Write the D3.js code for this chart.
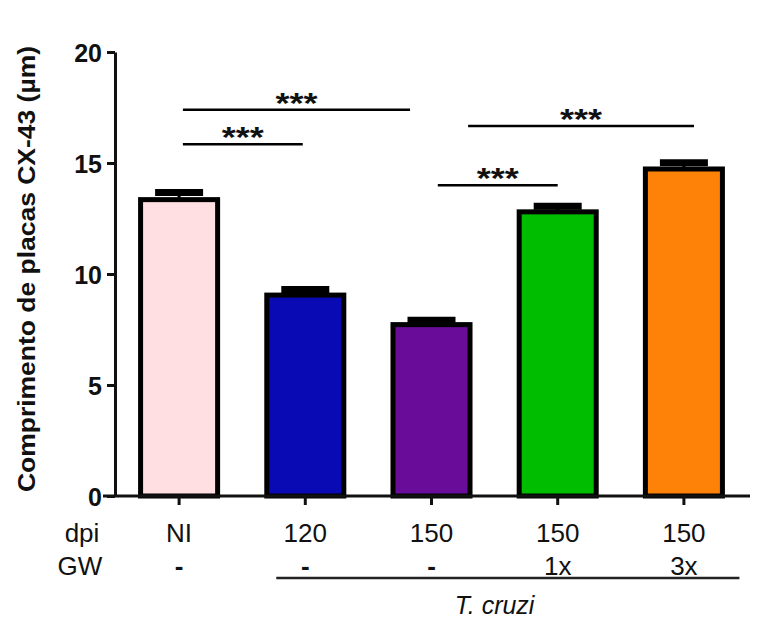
<!DOCTYPE html>
<html>
<head>
<meta charset="utf-8">
<script src="https://cdn.jsdelivr.net/npm/d3@7"></script>
<style>
  body { margin: 0; background: #fff; }
  text { font-family: "Liberation Sans", Arial, sans-serif; fill: #111; }
</style>
</head>
<body>
<svg id="mainFrame"></svg>
<script>
const groups = ['NI', '120', '150', '150 1x', '150 3x'];
const dpiLabels = ['NI', '120', '150', '150', '150'];
const gwLabels = ['-', '-', '-', '1x', '3x'];
const means = [13.35, 9.05, 7.72, 12.8, 14.73];
const sems = [0.32, 0.25, 0.2, 0.25, 0.28];
const barColors = ['#ffdfe1', '#0a0ab4', '#6a0c9a', '#00bd00', '#ff8208'];
const yTicks = [0, 5, 10, 15, 20];
// significance bars: positions in category units, height in axis units
const comparisons = [
    { from: 0.03, to: 1.83, level: 17.4 },
    { from: 0.03, to: 0.98, level: 15.85 },
    { from: 2.05, to: 3.0, level: 14.0 },
    { from: 2.29, to: 4.08, level: 16.67 }
];

const width = 758, height = 624;
const svg = d3.select('#mainFrame')
    .attr('width', width)
    .attr('height', height);

const x = d3.scaleBand()
    .domain(groups)
    .range([116, 747])
    .paddingInner(0.35)
    .paddingOuter(0.175);

const y = d3.scaleLinear()
    .domain([0, 20])
    .range([496, 52]);

const cx = d => x(d) + x.bandwidth() / 2;
const idx = d3.scaleLinear().domain([0, 4]).range([cx(groups[0]), cx(groups[4])]);

// bars
const bars = svg.append('g');
bars.selectAll('rect')
    .data(groups)
    .join('rect')
    .attr('x', d => x(d) + 2.5)
    .attr('y', (d, i) => y(means[i]))
    .attr('width', x.bandwidth() - 5)
    .attr('height', (d, i) => y(0) - y(means[i]))
    .attr('fill', (d, i) => barColors[i])
    .attr('stroke', '#000')
    .attr('stroke-width', 5);

// error bars (upper half only)
const err = svg.append('g').attr('stroke', '#000');
err.selectAll('line.v')
    .data(groups)
    .join('line')
    .attr('class', 'v')
    .attr('x1', d => cx(d)).attr('x2', d => cx(d))
    .attr('y1', (d, i) => y(means[i]))
    .attr('y2', (d, i) => y(means[i] + sems[i]))
    .attr('stroke-width', 3);
err.selectAll('line.cap')
    .data(groups)
    .join('line')
    .attr('class', 'cap')
    .attr('x1', d => cx(d) - 24).attr('x2', d => cx(d) + 24)
    .attr('y1', (d, i) => y(means[i] + sems[i]))
    .attr('y2', (d, i) => y(means[i] + sems[i]))
    .attr('stroke-width', 7);

// y axis
const yAxis = svg.append('g')
    .attr('transform', `translate(${115},0)`)
    .call(d3.axisLeft(y).tickValues(yTicks).tickSize(8).tickPadding(5).tickSizeOuter(0));
yAxis.select('.domain').attr('stroke', '#111').attr('stroke-width', 3);
yAxis.selectAll('.tick line').attr('stroke', '#111').attr('stroke-width', 3);
yAxis.selectAll('.tick text')
    .attr('font-family', '"Liberation Sans", Arial, sans-serif')
    .attr('font-size', 25)
    .attr('font-weight', 'bold')
    .attr('fill', '#111')
    .attr('dy', '0.36em');

// x axis
svg.append('line')
    .attr('x1', 103).attr('x2', 750)
    .attr('y1', y(0)).attr('y2', y(0))
    .attr('stroke', '#111').attr('stroke-width', 3);
svg.append('g').selectAll('line')
    .data(groups)
    .join('line')
    .attr('x1', d => cx(d)).attr('x2', d => cx(d))
    .attr('y1', y(0)).attr('y2', y(0) + 9)
    .attr('stroke', '#111').attr('stroke-width', 3);

// y label
svg.append('text')
    .attr('transform', 'translate(35,269) rotate(-90)')
    .attr('text-anchor', 'middle')
    .attr('font-size', 24)
    .attr('font-weight', 'bold')
    .attr('textLength', 446)
    .attr('lengthAdjust', 'spacingAndGlyphs')
    .text('Comprimento de placas CX-43 (µm)');

// category rows
const rows = svg.append('g').attr('font-size', 26).attr('text-anchor', 'middle');
rows.append('text').attr('x', 82).attr('y', 542).text('dpi');
rows.append('text').attr('x', 80).attr('y', 575).text('GW');
rows.selectAll('text.dpi')
    .data(groups)
    .join('text')
    .attr('class', 'dpi')
    .attr('x', d => cx(d))
    .attr('y', 542)
    .text((d, i) => dpiLabels[i]);
rows.selectAll('text.gw')
    .data(groups)
    .join('text')
    .attr('class', 'gw')
    .attr('x', d => cx(d))
    .attr('y', 575)
    .attr('font-weight', (d, i) => gwLabels[i] === '-' ? 'bold' : 'normal')
    .text((d, i) => gwLabels[i]);

// T. cruzi bracket
svg.append('line')
    .attr('x1', idx(0.77)).attr('x2', idx(4.44))
    .attr('y1', 578).attr('y2', 578)
    .attr('stroke', '#222').attr('stroke-width', 2.5);
svg.append('text')
    .attr('x', idx(2.5))
    .attr('y', 614)
    .attr('text-anchor', 'middle')
    .attr('font-size', 25)
    .attr('font-style', 'italic')
    .text('T. cruzi');

// significance
const sig = svg.append('g');
sig.selectAll('line')
    .data(comparisons)
    .join('line')
    .attr('x1', d => idx(d.from)).attr('x2', d => idx(d.to))
    .attr('y1', d => y(d.level)).attr('y2', d => y(d.level))
    .attr('stroke', '#000').attr('stroke-width', 2.5);
sig.selectAll('text')
    .data(comparisons)
    .join('text')
    .attr('x', d => (idx(d.from) + idx(d.to)) / 2)
    .attr('y', d => y(d.level) + 3)
    .attr('text-anchor', 'middle')
    .attr('font-size', 30)
    .attr('font-weight', 'bold')
    .attr('textLength', 42)
    .attr('lengthAdjust', 'spacingAndGlyphs')
    .text('***');
</script>
</body>
</html>
